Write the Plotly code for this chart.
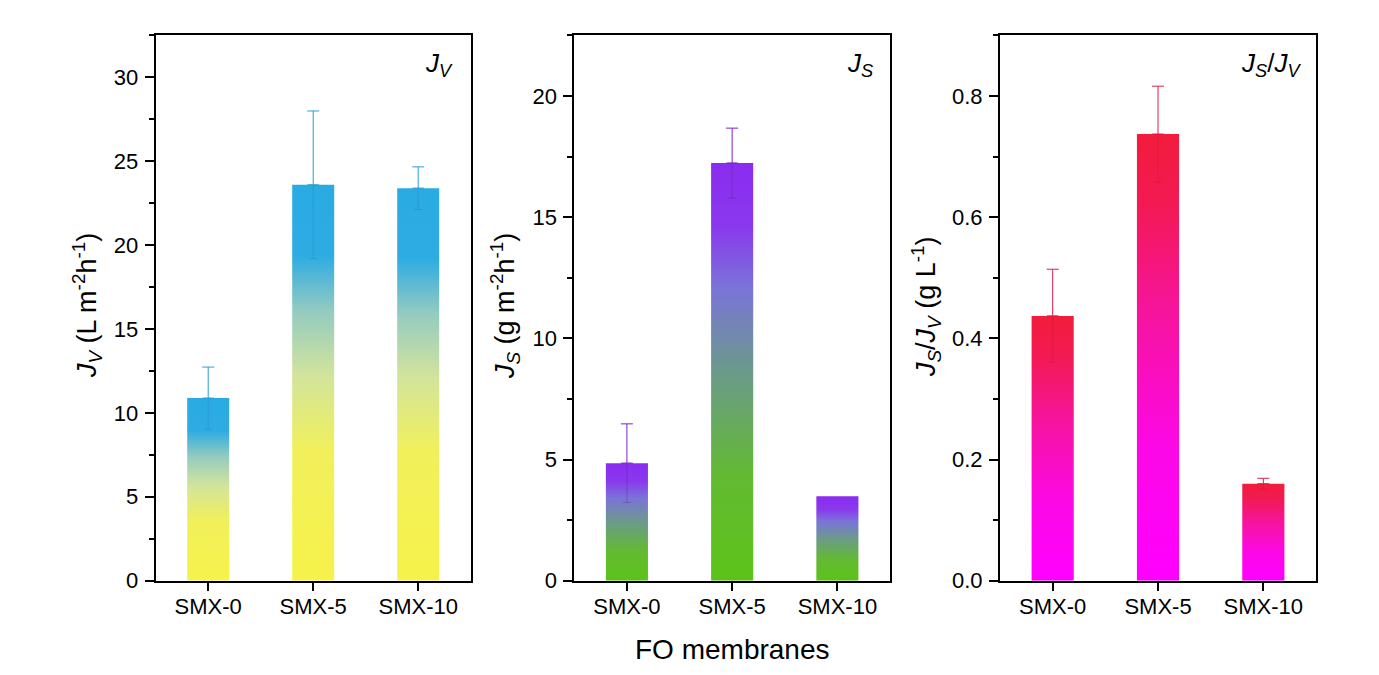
import plotly.graph_objects as go

categories = ["SMX-0", "SMX-5", "SMX-10"]
jv_values = [10.88, 23.59, 23.39]
jv_errors = [1.85, 4.40, 1.27]
js_values = [4.85, 17.23, 3.48]
js_errors = [1.62, 1.44, 0.0]
ratio_values = [0.437, 0.737, 0.160]
ratio_errors = [0.077, 0.079, 0.009]

OFF = 8  # default page body margin (all sides)
W, H = 1379 - 2 * OFF, 675 - 2 * OFF
FONT = "Arial, Liberation Sans, sans-serif"


def px_x(v):
    return (v - OFF) / W


def px_y(v):
    return 1 - (v - OFF) / H


JV = "<i>J<sub>V</sub></i>"
JS = "<i>J<sub>S</sub></i>"

panels = [
    dict(values=jv_values, errors=jv_errors, xd=(155.7, 470.7), yr=[0, 32.5], dtick=5, minor=2.5, fmt="",
         cs=[[0, "#f6f24a"], [0.33, "#f1f05c"], [0.52, "#d2e49c"], [0.68, "#94cbc0"], [0.82, "#2eace2"], [1, "#29abe2"]],
         ecol="#2a9fd6", lcol="rgba(40,120,180,0.35)",
         title=JV + " (L m<sup>-2</sup>h<sup>-1</sup>)", tx=87, label=JV, lx=455),
    dict(values=js_values, errors=js_errors, xd=(574.3, 890.0), yr=[0, 22.5], dtick=5, minor=2.5, fmt="",
         cs=[[0, "#5cc319"], [0.25, "#63ba32"], [0.5, "#6b9a8a"], [0.7, "#7a74d8"], [0.85, "#8a38ee"], [1, "#8a2cf0"]],
         ecol="#7a20d0", lcol="rgba(80,40,120,0.35)",
         title=JS + " (g m<sup>-2</sup>h<sup>-1</sup>)", tx=505, label=JS, lx=875),
    dict(values=ratio_values, errors=ratio_errors, xd=(1000.0, 1316.0), yr=[0, 0.9], dtick=0.2, minor=0.1, fmt=".1f",
         cs=[[0, "#ff00ff"], [0.3, "#fc08e6"], [0.6, "#f6149e"], [0.85, "#f21a52"], [1, "#f21c3c"]],
         ecol="#e01e48", lcol="rgba(200,20,60,0.35)",
         title=JS + "/" + JV + " (g L<sup>-1</sup>)", tx=926, label=JS + "/" + JV, lx=1303),
]

y_top, y_bot = 35.3, 580.7
ydom = [px_y(y_bot), px_y(y_top)]
bar_w = 0.4

fig = go.Figure()
annotations = []
for k, p in enumerate(panels):
    sfx = "" if k == 0 else str(k + 1)
    xa, ya = "x" + sfx, "y" + sfx
    for i, v in enumerate(p["values"]):
        xs = [i - bar_w / 2, i + bar_w / 2, i + bar_w / 2, i - bar_w / 2, i - bar_w / 2]
        ys = [0, 0, v, v, 0]
        fig.add_trace(go.Scatter(
            x=xs, y=ys, fill="toself", mode="lines", line=dict(width=0),
            fillgradient=dict(type="vertical", colorscale=p["cs"], start=0, stop=v),
            hoverinfo="skip", showlegend=False, xaxis=xa, yaxis=ya))
    xi = [i for i, e in enumerate(p["errors"]) if e > 0]
    yv = [p["values"][i] for i in xi]
    ev = [p["errors"][i] for i in xi]
    zeros = [0] * len(xi)
    fig.add_trace(go.Scatter(
        x=xi, y=yv, mode="markers", marker=dict(size=1, opacity=0),
        error_y=dict(type="data", symmetric=False, array=zeros, arrayminus=ev,
                     color=p["lcol"], thickness=1, width=4),
        hoverinfo="skip", showlegend=False, xaxis=xa, yaxis=ya))
    fig.add_trace(go.Scatter(
        x=xi, y=yv, mode="markers", marker=dict(size=1, opacity=0),
        error_y=dict(type="data", symmetric=False, array=ev, arrayminus=zeros,
                     color=p["ecol"], thickness=1, width=6),
        hoverinfo="skip", showlegend=False, xaxis=xa, yaxis=ya))

    xdom = [px_x(p["xd"][0]), px_x(p["xd"][1])]
    fig.update_layout(**{
        ("xaxis" + sfx): dict(
            domain=xdom, range=[-0.5, 2.5], tickvals=list(range(len(categories))), ticktext=categories,
            showline=True, linecolor="black", linewidth=2, mirror=True, automargin=False,
            ticks="outside", ticklen=8, tickwidth=2, tickcolor="black",
            showgrid=False, zeroline=False, anchor=ya, ticklabelstandoff=-3,
            tickfont=dict(family=FONT, size=22, color="black")),
        ("yaxis" + sfx): dict(
            domain=ydom, range=p["yr"], dtick=p["dtick"], tick0=0, tickformat=p["fmt"],
            showline=True, linecolor="black", linewidth=2, mirror=True, automargin=False,
            ticks="outside", ticklen=9, tickwidth=2, tickcolor="black",
            minor=dict(dtick=p["minor"], ticks="outside", ticklen=5, tickwidth=2, tickcolor="black", showgrid=False),
            showgrid=False, zeroline=False, anchor=xa, ticklabelstandoff=2,
            tickfont=dict(family=FONT, size=22, color="black")),
    })
    annotations.append(dict(
        text=p["title"], x=px_x(p["tx"]), y=px_y(306), xref="paper", yref="paper",
        textangle=-90, showarrow=False, xanchor="center", yanchor="middle",
        font=dict(family=FONT, size=27, color="black")))
    annotations.append(dict(
        text=p["label"], x=px_x(p["lx"]), y=px_y(64), xref="paper", yref="paper",
        showarrow=False, xanchor="right", yanchor="middle",
        font=dict(family=FONT, size=26, color="black")))

annotations.append(dict(
    text="FO membranes", x=px_x(732), y=px_y(649), xref="paper", yref="paper",
    showarrow=False, xanchor="center", yanchor="middle",
    font=dict(family=FONT, size=28, color="black")))

fig.update_layout(
    width=W, height=H, margin=dict(l=0, r=0, t=0, b=0, autoexpand=False),
    paper_bgcolor="white", plot_bgcolor="white",
    showlegend=False, annotations=annotations,
)

fig.write_html("out.html")
